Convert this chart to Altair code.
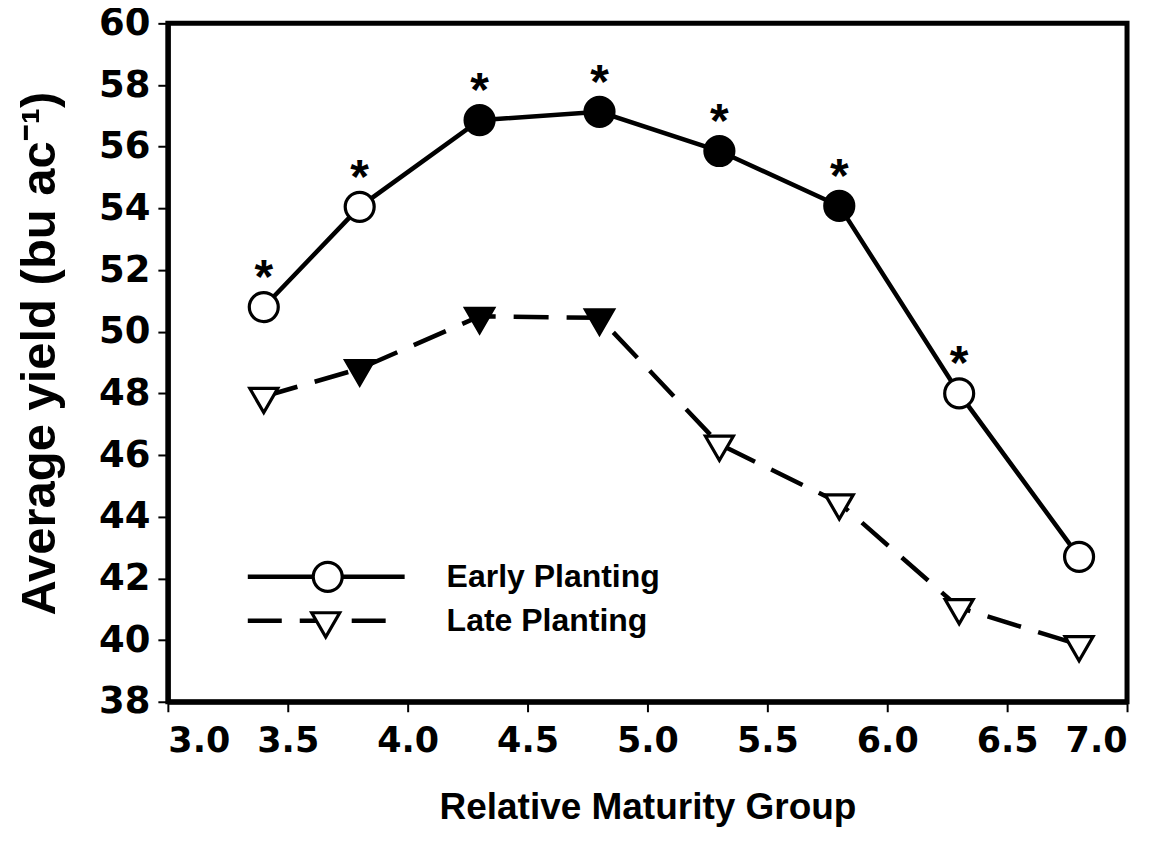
import altair as alt
import pandas as pd

# ---- data ----
maturity = [3.4, 3.8, 4.3, 4.8, 5.3, 5.8, 6.3, 6.8]
early_yield = [50.8, 54.05, 56.86, 57.13, 55.86, 54.08, 48.0, 42.7]
late_yield = [47.9, 48.8, 50.5, 50.45, 46.35, 44.45, 41.05, 39.85]
early_filled = [False, False, True, True, True, True, False, False]
late_filled = [False, True, True, True, False, False, False, False]
early_significant = [True, True, True, True, True, True, True, False]
x_ticks = [3.0, 3.5, 4.0, 4.5, 5.0, 5.5, 6.0, 6.5, 7.0]
y_ticks = [38, 40, 42, 44, 46, 48, 50, 52, 54, 56, 58, 60]

FONT = "Liberation Sans"
LABEL_FONT = "DejaVu Sans"
TRI = "M-1,-0.577L1,-0.577L0,1.155Z"

early = pd.DataFrame({"rm": maturity, "y": early_yield, "filled": early_filled,
                      "sig": early_significant})
late = pd.DataFrame({"rm": maturity, "y": late_yield, "filled": late_filled})

xs = alt.Scale(domain=[3, 7], nice=False, zero=False)
ys = alt.Scale(domain=[38, 60], nice=False, zero=False)

xax = alt.Axis(values=x_ticks, format=".1f", title="Relative Maturity Group",
               titleY=106, titleBaseline="middle")
yax = alt.Axis(values=y_ticks, format="d", title="Average yield (bu ac⁻¹)",
               titleX=-128, titleY=330, titleAngle=-90, titleBaseline="middle",
               titleAlign="center")

X = alt.X("rm:Q", scale=xs, axis=xax)
Y = alt.Y("y:Q", scale=ys, axis=yax)
fillc = alt.condition("datum.filled", alt.value("black"), alt.value("white"))

early_line = alt.Chart(early).mark_line(color="black", strokeWidth=4.5).encode(x=X, y=Y)
late_line = alt.Chart(late).mark_line(color="black", strokeWidth=4.5,
                                       strokeDash=[35, 18]).encode(x=X, y=Y)
early_pts = alt.Chart(early).mark_point(shape="circle", size=841, stroke="black",
                                        strokeWidth=3.2, opacity=1).encode(x=X, y=Y, fill=fillc)
late_pts = alt.Chart(late).mark_point(shape=TRI, size=784, stroke="black",
                                      strokeWidth=3.2, opacity=1).encode(x=X, y=Y, fill=fillc)
stars = alt.Chart(early).transform_filter("datum.sig").mark_text(
    text="*", font=FONT, fontSize=48, fontWeight="bold", dy=-14,
    baseline="alphabetic", align="center", color="black").encode(x=X, y=Y)

# ---- legend (drawn manually) ----
one = pd.DataFrame({"k": [0]})
leg_early_line = alt.Chart(one).mark_rule(color="black", strokeWidth=4.5).encode(
    x=alt.value(80), x2=alt.value(237), y=alt.value(554))
leg_early_pt = alt.Chart(one).mark_point(shape="circle", size=841, stroke="black",
                                         strokeWidth=3.2, fill="white", opacity=1).encode(
    x=alt.value(160), y=alt.value(554))
leg_late_line = alt.Chart(one).mark_rule(color="black", strokeWidth=4.5,
                                         strokeDash=[34, 18]).encode(
    x=alt.value(80), x2=alt.value(219), y=alt.value(598))
leg_late_pt = alt.Chart(one).mark_point(shape=TRI, size=784, stroke="black",
                                        strokeWidth=3.2, fill="white", opacity=1).encode(
    x=alt.value(158), y=alt.value(598))
leg_early_txt = alt.Chart(one).mark_text(text="Early Planting", font=FONT, fontSize=32,
                                         fontWeight="bold", align="left",
                                         baseline="middle").encode(
    x=alt.value(279), y=alt.value(554))
leg_late_txt = alt.Chart(one).mark_text(text="Late Planting", font=FONT, fontSize=32,
                                        fontWeight="bold", align="left",
                                        baseline="middle").encode(
    x=alt.value(279), y=alt.value(598))

chart = alt.layer(
    early_line, late_line, early_pts, late_pts, stars,
    leg_early_line, leg_late_line, leg_early_pt, leg_late_pt, leg_early_txt, leg_late_txt
).properties(
    width=960, height=679,
    autosize=alt.AutoSizeParams(type="none"),
    padding={"left": 160, "top": 15, "right": 30, "bottom": 130},
    background="white",
).configure_view(
    stroke="black", strokeWidth=5
).configure_axis(
    grid=False, domainColor="black", domainWidth=5, tickColor="black", tickWidth=2,
    tickSize=10, labelFont=LABEL_FONT, labelFontWeight="bold",
    labelColor="black", titleFont=FONT, titleFontWeight="bold", titleColor="black",
    labelPadding=8
).configure_axisX(
    titleFontSize=37, labelPadding=12, labelFontSize=35
).configure_axisY(
    titleFontSize=49, labelFontSize=37
)

chart.save("out.html", embed_options={"renderer": "svg", "actions": False})
